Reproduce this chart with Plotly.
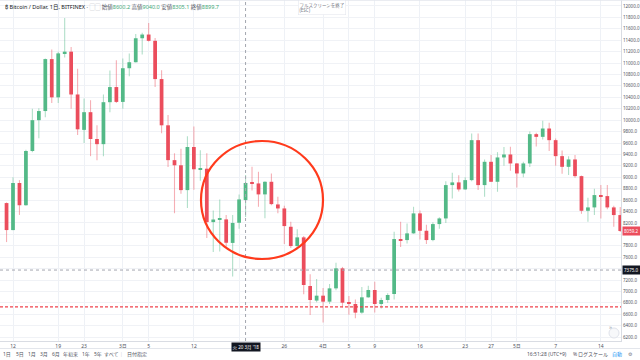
import plotly.graph_objects as go
import pandas as pd

# ---------------- data ----------------
dates = pd.date_range("2018-02-11", "2018-05-17", freq="D")

opens = [8548, 8075, 8900, 8510, 9460, 10000, 10160, 11070, 10400, 11170, 11200, 10450, 9830, 10140, 9670, 9580, 10315, 10580,
         10320, 10910, 11015, 11435, 11500, 11390, 10720, 9910, 9300, 9210, 8775, 9530, 9140, 9150, 8215, 8260, 8262, 7850,
         8203, 8600.2, 8909, 8892, 8700, 8921, 8524, 8454, 8133, 7795, 7947, 7095, 6840,
         6926, 6821, 7054, 7404, 6810, 6780, 6629, 6897, 7025, 6780, 6850, 6955, 7918, 7900, 8017, 8367, 8063, 7900, 8180,
         8279, 8863, 8910, 8787, 8950, 9650, 8863, 9271, 8921, 9347, 9399,
         9242, 9067, 9242, 9755, 9708, 9854, 9650, 9370, 9183, 9312, 9020, 8413, 8472, 8688, 8670, 8472, 8338]
highs = [8560, 9000, 8950, 9480, 10200, 10210, 11080, 11240, 11200, 11790, 11280, 10900, 10380, 10350, 9910, 10450, 10870, 11050,
         11080, 11170, 11510, 11530, 11700, 11440, 10875, 10090, 9420, 9500, 9720, 9890, 9475, 9420, 8420, 8610, 8340, 8340,
         8700, 9040.0, 9183, 9096, 8930, 9067, 8658, 8500, 8220, 8090, 7970, 7300, 7220,
         7060, 7130, 7503, 7430, 6920, 6860, 7080, 7100, 7171, 6890, 6970, 8046, 8221, 8190, 8483, 8420, 8170, 8210, 8300,
         8930, 9078, 9037, 9000, 9767, 9767, 9310, 9388, 9440, 9530, 9533,
         9250, 9270, 9800, 9780, 9988, 9953, 9680, 9470, 9370, 9390, 9030, 8640, 8800, 8863, 8863, 8500, 8480]
lows = [7865, 8070, 8340, 8500, 9440, 9685, 10050, 10300, 10300, 11100, 10200, 9740, 9600, 9370, 9300, 9370, 10140, 10300,
        10200, 10770, 11010, 11150, 11380, 10580, 9770, 9180, 8370, 8710, 8460, 8780, 8940, 7935, 7690, 7700, 7780, 7260,
        8100, 8305.1, 8770, 8483, 8280, 8510, 8370, 7830, 7760, 7740, 6950, 6588, 6810,
        6454, 6780, 7020, 6720, 6590, 6530, 6610, 6890, 6630, 6700, 6800, 6860, 7780, 7840, 8010, 7910, 7830, 7880, 8100,
        8200, 8629, 8750, 8780, 8930, 8775, 8658, 8920, 8746, 9200, 9113,
        8822, 9000, 9180, 9540, 9660, 9460, 9200, 9060, 9040, 8990, 8360, 8221, 8340, 8279, 8440, 8133, 8040]
closes = [8075, 8900, 8510, 9460, 10000, 10160, 11070, 10400, 11170, 11200, 10450, 9840, 10140, 9670, 9580, 10315, 10580, 10320,
          10910, 11015, 11435, 11500, 11390, 10720, 9910, 9300, 9210, 8775, 9530, 9140, 9150, 8215, 8260, 8270, 7853, 8200,
          8612, 8899.7, 8898, 8700, 8921, 8530, 8454, 8145, 7795, 7947, 7113, 6850, 6926,
          6821, 7054, 7404, 6803, 6786, 6629, 6897, 7025, 6780, 6850, 6938, 7918, 7900, 8017, 8367, 8063, 7900, 8180, 8279,
          8863, 8910, 8787, 8950, 9650, 8863, 9271, 8921, 9347, 9399, 9242,
          9067, 9242, 9755, 9708, 9854, 9650, 9370, 9183, 9312, 9020, 8413, 8472, 8688, 8670, 8472, 8338, 8059.2]

tick_dates = ["2018-02-12", "2018-02-19", "2018-02-23", "2018-03-01", "2018-03-05", "2018-03-12", "2018-03-19",
              "2018-03-26", "2018-04-01", "2018-04-05", "2018-04-09", "2018-04-16", "2018-04-23", "2018-04-27",
              "2018-05-01", "2018-05-07", "2018-05-14"]
# the Mar 19 label is hidden under the crosshair date box in the reference
tick_text = ["12", "19", "23", "3月", "5", "12", "", "26", "4月", "5", "9", "16", "23", "27", "5月", "7", "14"]

price_ticks = list(range(6200, 12001, 200))
support_level = 6730.0       # red dashed horizontal line
crosshair_price = 7375.0
crosshair_date = "2018-03-20"
last_price = closes[-1]
# tick labels covered by the price boxes on the axis
hidden_price_ticks = [7400, 8000]
price_text = ["" if v in hidden_price_ticks else f"{v:.1f}" for v in price_ticks]

# ---------------- style ----------------
UP = "#53b987"
DOWN = "#eb4d5c"
UP_WICK = "rgba(83,185,135,0.45)"
DOWN_WICK = "rgba(235,77,92,0.45)"
DAY = 86400000
FONT = "Noto Sans, Noto Sans CJK JP, sans-serif"

up_idx = [i for i in range(len(dates)) if closes[i] >= opens[i]]
dn_idx = [i for i in range(len(dates)) if closes[i] < opens[i]]


def sel(seq, idx):
    return [seq[i] for i in idx]


fig = go.Figure()
for idx, wc in [(up_idx, UP_WICK), (dn_idx, DOWN_WICK)]:
    x = sel(list(dates), idx)
    h, l = sel(highs, idx), sel(lows, idx)
    fig.add_trace(go.Bar(x=x, base=l, y=[hh - ll for hh, ll in zip(h, l)], width=0.17 * DAY,
                         marker=dict(color=wc, line=dict(width=0)), hoverinfo="skip"))
for idx, bc in [(up_idx, UP), (dn_idx, DOWN)]:
    x = sel(list(dates), idx)
    o, c = sel(opens, idx), sel(closes, idx)
    fig.add_trace(go.Bar(x=x, base=[min(a, b) for a, b in zip(o, c)],
                         y=[max(abs(b - a), 14) for a, b in zip(o, c)], width=0.58 * DAY,
                         marker=dict(color=bc, line=dict(width=0)), hoverinfo="skip"))

PLOT_W = 621.0
PLOT_H = 341.0


def py(px):  # pixel row -> paper y
    return 1 - px / PLOT_H


fig.update_layout(
    width=640, height=360,
    margin=dict(l=0, r=19, t=0, b=19),
    paper_bgcolor="white", plot_bgcolor="white",
    barmode="overlay", showlegend=False, hovermode=False,
    font=dict(family=FONT, color="#50535e"),
    xaxis=dict(type="date", range=["2018-02-09 23:42", "2018-05-17 02:50"],
               tickvals=tick_dates, ticktext=tick_text, ticks="", tickfont=dict(size=5, color="#50535e"),
               showgrid=True, gridcolor="#eef1f6", gridwidth=1, zeroline=False,
               showline=True, linecolor="#d9dce3", linewidth=1, fixedrange=True),
    yaxis=dict(side="right", range=[6132, 12105], tickvals=price_ticks, ticktext=price_text,
               ticks="", tickfont=dict(size=4.5, color="#50535e"),
               showgrid=True, gridcolor="#f0f2f6", gridwidth=1, zeroline=False,
               showline=True, linecolor="#d9dce3", linewidth=1, fixedrange=True),
)

shapes = [
    dict(type="line", xref="paper", yref="y", x0=0, x1=1, y0=support_level, y1=support_level,
         line=dict(color="#f0424c", width=1.4, dash="3px,2px")),
    dict(type="line", xref="paper", yref="y", x0=0, x1=1, y0=crosshair_price, y1=crosshair_price,
         line=dict(color="#a3a6af", width=1, dash="dot")),
    dict(type="line", xref="x", yref="paper", x0=crosshair_date, x1=crosshair_date, y0=0, y1=1,
         line=dict(color="#a3a6af", width=1, dash="dot")),
    dict(type="circle", xref="paper", yref="paper", x0=201 / PLOT_W, x1=323 / PLOT_W, y0=py(259), y1=py(141),
         line=dict(color="#ff3a1c", width=2.2)),
    dict(type="line", xref="paper", yref="paper", x0=0, x1=640 / PLOT_W, y0=py(348.5), y1=py(348.5),
         line=dict(color="#e3e6ec", width=1)),
    dict(type="circle", xref="paper", yref="paper", x0=609 / PLOT_W, x1=619 / PLOT_W, y0=py(338), y1=py(328),
         line=dict(color="#e0e3eb", width=1), fillcolor="#f7f8fa"),
    dict(type="line", xref="paper", yref="paper", x0=0, x1=640 / PLOT_W, y0=1, y1=1,
         line=dict(color="#e3e6ec", width=1.5)),
]
fig.update_layout(shapes=shapes)

G = "#3fa877"
header = (f"<span style='color:#131722'>₿ Bitcoin / Dollar, 1日, BITFINEX · </span>"
          f"<span style='color:#b2b5be'>▢▢</span> "
          f"始値<span style='color:{G}'>{opens[37]:.1f}</span> "
          f"高値<span style='color:{G}'>{highs[37]:.1f}</span> "
          f"安値<span style='color:{G}'>{lows[37]:.1f}</span> "
          f"終値<span style='color:{G}'>{closes[37]:.1f}</span>")

ann = [
    dict(text=header, xref="paper", yref="paper", x=3 / PLOT_W, y=py(7), xanchor="left", yanchor="middle",
         showarrow=False, font=dict(size=5.5, color="#50535e")),
    dict(text="フルスクリーンを終了<br>(ESC)", xref="paper", yref="paper", x=298 / PLOT_W, y=1,
         xanchor="left", yanchor="top", align="left", showarrow=False, bgcolor="white",
         bordercolor="#e0e3eb", borderwidth=0.5, borderpad=1, font=dict(size=4.5, color="#787b86")),
    dict(text=f"{last_price:.1f}", xref="paper", yref="y", x=1, y=last_price, xanchor="left", yanchor="middle",
         xshift=1, showarrow=False, bgcolor=DOWN, borderpad=1, font=dict(size=4.5, color="white")),
    dict(text=f"{crosshair_price:.1f}", xref="paper", yref="y", x=1, y=crosshair_price, xanchor="left",
         yanchor="middle", xshift=1, showarrow=False, bgcolor="#131722", borderpad=1,
         font=dict(size=4.5, color="white")),
    dict(text="火 20 3月 '18", xref="x", yref="paper", x=crosshair_date, y=0, xanchor="center", yanchor="top",
         yshift=-1, showarrow=False, bgcolor="#131722", borderpad=0.5, font=dict(size=4.5, color="white")),
    dict(text="»", xref="paper", yref="paper", x=614 / PLOT_W, y=py(333), showarrow=False,
         font=dict(size=6, color="#9598a1")),
]

toolbar_left = [("1日", 7), ("5日", 20), ("1月", 32), ("3月", 44), ("6月", 56), ("年初来", 70), ("1年", 86),
                ("5年", 98), ("すべて", 111), ("|", 121), ("日付指定", 137)]
for label, px in toolbar_left:
    ann.append(dict(text=label, xref="paper", yref="paper", x=px / PLOT_W, y=py(354), xanchor="center",
                    yanchor="middle", showarrow=False,
                    font=dict(size=5, color="#50535e" if label != "|" else "#d1d4dc")))
toolbar_right = [("16:51:28 (UTC+9)", 547, "#50535e"), ("%", 575, "#50535e"), ("ログスケール", 593, "#50535e"),
                 ("自動", 617, "#2196f3"), ("⚙", 630, "#787b86")]
for label, px, col in toolbar_right:
    ann.append(dict(text=label, xref="paper", yref="paper", x=px / PLOT_W, y=py(354), xanchor="center",
                    yanchor="middle", showarrow=False, font=dict(size=5, color=col)))

fig.update_layout(annotations=ann)
fig.write_html("out.html", config={"displayModeBar": False},
               post_script="document.body.style.margin='0';document.body.style.padding='0';")
